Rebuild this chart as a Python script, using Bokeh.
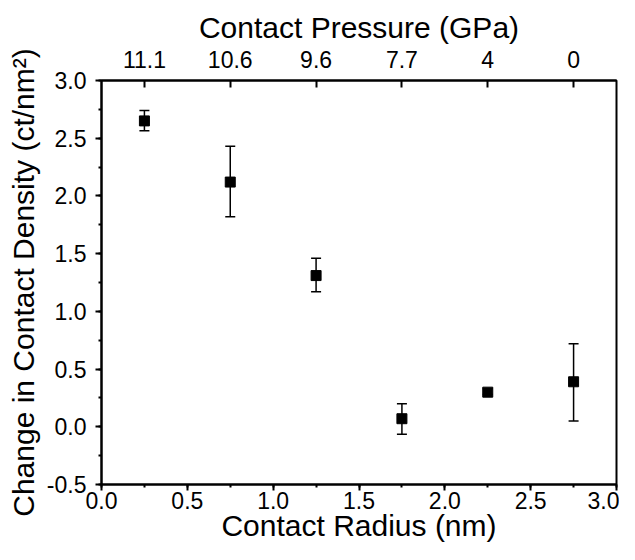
from bokeh.plotting import figure
from bokeh.models import (ColumnDataSource, Whisker, TeeHead, LinearAxis, FixedTicker,
                          SingleIntervalTicker, CustomJSTickFormatter, PrintfTickFormatter, Range1d)
from bokeh.embed import file_html
from bokeh.resources import INLINE

# ---- data ----
radius = [0.25, 0.75, 1.25, 1.75, 2.25, 2.75]
pressure_labels = ["11.1", "10.6", "9.6", "7.7", "4", "0"]
density = [2.65, 2.12, 1.31, 0.07, 0.30, 0.39]
err_low = [2.565, 1.82, 1.17, -0.065, 0.28, 0.05]
err_high = [2.74, 2.43, 1.46, 0.20, 0.33, 0.72]

FONT = "Liberation Sans"

src = ColumnDataSource(dict(x=radius, y=density, lo=err_low, hi=err_high))

p = figure(width=619, height=544, output_backend="svg", toolbar_location=None,
           x_range=Range1d(0, 3.0), y_range=Range1d(-0.5, 3.0),
           min_border_left=101, min_border_right=3, min_border_top=80, min_border_bottom=51,
           background_fill_color="white", border_fill_color="white")
p.grid.visible = False
p.outline_line_color = "black"
p.outline_line_width = 2

for ax in (p.xaxis[0], p.yaxis[0]):
    ax.ticker = SingleIntervalTicker(interval=0.5, num_minor_ticks=2)
    ax.formatter = PrintfTickFormatter(format="%.1f")
    ax.axis_line_width = 2
    ax.axis_line_color = "black"
    ax.major_tick_line_width = 2
    ax.minor_tick_line_width = 2
    ax.major_tick_in = 0
    ax.major_tick_out = 6
    ax.minor_tick_in = 0
    ax.minor_tick_out = 3
    ax.major_label_text_font = FONT
    ax.major_label_text_font_size = "23px"
    ax.major_label_text_color = "black"
    ax.axis_label_text_font = FONT
    ax.axis_label_text_font_size = "30px"
    ax.axis_label_text_font_style = "normal"
    ax.axis_label_text_color = "black"
    ax.axis_label_standoff = 0

p.xaxis.major_label_standoff = 1
p.xaxis.axis_label_standoff = -3
p.yaxis.major_label_standoff = 9
p.yaxis.axis_label_standoff = 4

p.xaxis.axis_label = "Contact Radius (nm)"
p.yaxis.axis_label = "Change in Contact Density (ct/nm²)"

top = LinearAxis(ticker=FixedTicker(ticks=radius, minor_ticks=[]),
                 formatter=CustomJSTickFormatter(args=dict(pos=radius, labs=pressure_labels), code="""
const i = pos.findIndex(t => Math.abs(t - tick) < 1e-6);
return i >= 0 ? labs[i] : '';
"""),
                 axis_label="Contact Pressure (GPa)")
top.axis_line_width = 2
top.axis_line_color = "black"
top.major_tick_line_width = 2
top.major_tick_in = 7
top.major_tick_out = 0
top.minor_tick_in = 0
top.minor_tick_out = 0
top.major_label_text_font = FONT
top.major_label_text_font_size = "23px"
top.major_label_text_color = "black"
top.axis_label_text_font = FONT
top.axis_label_text_font_size = "30px"
top.axis_label_text_font_style = "normal"
top.axis_label_text_color = "black"
top.major_label_standoff = 13
top.axis_label_standoff = 4
p.add_layout(top, "above")

p.add_layout(Whisker(source=src, base="x", lower="lo", upper="hi",
                     line_color="black", line_width=1.5,
                     upper_head=TeeHead(size=10, line_color="black", line_width=1.5),
                     lower_head=TeeHead(size=10, line_color="black", line_width=1.5)))
p.scatter("x", "y", source=src, marker="square", size=10, color="black")

open("out.html", "w").write(file_html(p, INLINE))
